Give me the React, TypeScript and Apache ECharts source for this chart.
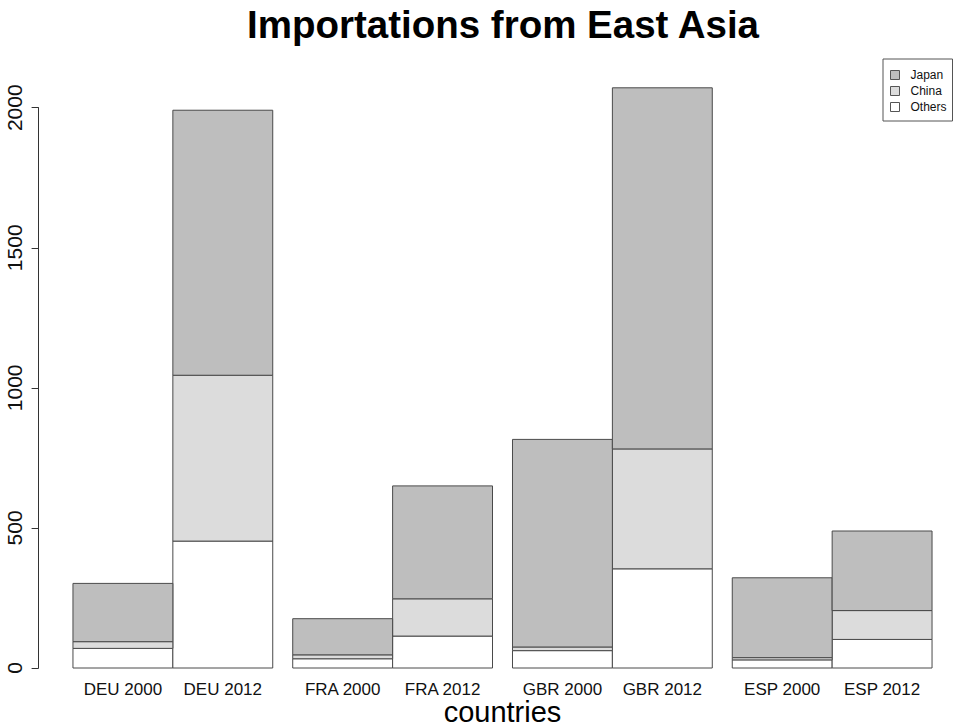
import React, { useEffect, useRef } from 'react';
import * as echarts from 'echarts';

// ---- data ----
const barLabels = ['DEU 2000', 'DEU 2012', 'FRA 2000', 'FRA 2012', 'GBR 2000', 'GBR 2012', 'ESP 2000', 'ESP 2012'];
const others = [70, 453, 33, 114, 62, 354, 29, 102];
const china = [24, 592, 14, 133, 13, 428, 8, 103];
const japan = [208, 946, 129, 403, 741, 1289, 285, 284];
const yTicks = [0, 500, 1000, 1500, 2000];
const legendOrder = ['Japan', 'China', 'Others'];

const FONT = '"Liberation Sans", Arial, Helvetica, sans-serif';
const fills: Record<string, string> = { Japan: '#bebebe', China: '#dcdcdc', Others: '#ffffff' };
const STROKE = '#4a4a4a';

// bar centres in R barplot units: width 1, 0.2 gap between country pairs
const centers = barLabels.map((_, i) => i + 0.5 + 0.2 * Math.floor(i / 2));

function buildLayers() {
  const layers = [
    { name: 'Others', values: others },
    { name: 'China', values: china },
    { name: 'Japan', values: japan },
  ];
  const base = barLabels.map(() => 0);
  return layers.map((l) => {
    const data = l.values.map((v, i) => {
      const b = base[i];
      base[i] = b + v;
      return [centers[i], b, b + v];
    });
    return { name: l.name, data };
  });
}

export default function App() {
  const ref = useRef<HTMLDivElement>(null);
  useEffect(() => {
    if (!ref.current) return;
    const chart = echarts.init(ref.current, undefined, { renderer: 'svg' });
    const layers = buildLayers();
    const series = layers.map((l) => ({
      type: 'custom',
      name: l.name,
      data: l.data,
      encode: { x: 0, y: [1, 2] },
      clip: false,
      itemStyle: { color: fills[l.name], borderColor: STROKE, borderWidth: 1 },
      renderItem: (params: any, api: any) => {
        const c = api.value(0);
        const b = api.value(1);
        const t = api.value(2);
        const p0 = api.coord([c - 0.5, b]);
        const p1 = api.coord([c + 0.5, t]);
        return {
          type: 'rect',
          shape: { x: p0[0], y: p1[1], width: p1[0] - p0[0], height: p0[1] - p1[1] },
          style: { fill: fills[l.name], stroke: STROKE, lineWidth: 1 },
        };
      },
    }));

    chart.setOption({
      animation: false,
      backgroundColor: '#ffffff',
      title: {
        text: 'Importations from East Asia',
        left: 498,
        textAlign: 'center',
        top: 0,
        textStyle: { fontFamily: FONT, fontSize: 38.5, fontWeight: 'bold', color: '#000' },
      },
      legend: {
        data: legendOrder,
        orient: 'vertical',
        left: 883,
        top: 59,
        padding: [10, 6, 8, 7],
        borderColor: '#555',
        borderWidth: 1,
        itemWidth: 21,
        itemHeight: 9,
        itemGap: 4,
        icon: 'path://M0,0 L10,0 L10,10 L0,10 Z',
        itemStyle: { borderColor: '#555', borderWidth: 1 },
        textStyle: { fontFamily: FONT, fontSize: 12, lineHeight: 12, color: '#111' },
        selectedMode: false,
      },
      grid: {
        left: 38.6,
        top: 107.7,
        width: 927.8,
        height: 560.3,
        containLabel: false,
        outerBoundsMode: 'none',
      },
      xAxis: {
        type: 'value',
        min: -0.344,
        max: 8.944,
        name: 'countries',
        nameLocation: 'middle',
        nameGap: 29,
        nameMoveOverlap: false,
        nameTextStyle: { fontFamily: FONT, fontSize: 29, color: '#000' },
        axisLine: { show: false },
        axisTick: { show: false },
        splitLine: { show: false },
        axisLabel: {
          customValues: centers,
          formatter: (v: number) => {
            let best = 0;
            centers.forEach((c, i) => {
              if (Math.abs(c - v) < Math.abs(centers[best] - v)) best = i;
            });
            return barLabels[best];
          },
          fontFamily: FONT,
          fontSize: 17,
          color: '#111',
          margin: 13,
        },
      },
      yAxis: {
        type: 'value',
        min: yTicks[0],
        max: yTicks[yTicks.length - 1],
        interval: 500,
        axisLine: { show: true, onZero: false, lineStyle: { color: '#333', width: 1 } },
        axisTick: { show: true, length: 7, lineStyle: { color: '#333' } },
        splitLine: { show: false },
        axisLabel: {
          rotate: 90,
          formatter: (v: number) => String(v),
          fontFamily: FONT,
          fontSize: 21,
          color: '#111',
          margin: 14,
        },
      },
      series,
    });
    return () => chart.dispose();
  }, []);
  return <div ref={ref} style={{ width: 960, height: 727, position: 'absolute', left: 0, top: 0 }} />;
}
